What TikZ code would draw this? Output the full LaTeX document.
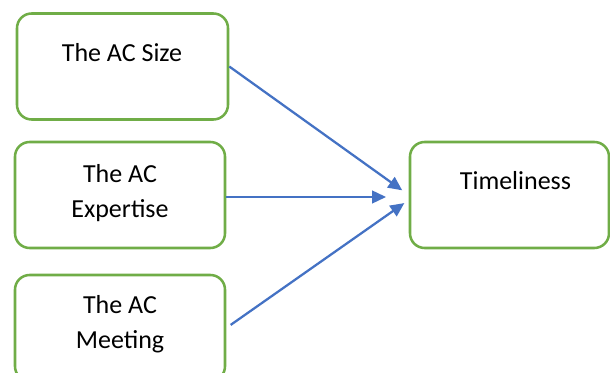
\documentclass[tikz,border=0pt]{standalone}
\usepackage{fontspec}
\setmainfont{Carlito}
\usetikzlibrary{arrows.meta}
\definecolor{boxgreen}{HTML}{70AD47}
\definecolor{linkblue}{HTML}{4472C4}
\begin{document}
\begin{tikzpicture}[x=.75pt, y=-.75pt,
	acbox/.style={draw=boxgreen, line width=1.9pt, rounded corners=11pt, minimum height=79.5pt},
	actext/.style={anchor=base, align=center, font=\fontsize{19.5}{26.25}\selectfont},
	link/.style={draw=linkblue, line width=1.7pt, -{Triangle[length=10.5pt,width=9.5pt]}}]
	\useasboundingbox (0,0) rectangle (610,373);
	\clip (0,0) rectangle (610,373);
	\node[acbox, minimum width=158.25pt] (size)      at (122.5,66.5) {};
	\node[acbox, minimum width=157.5pt]  (expertise) at (120,195)    {};
	\node[acbox, minimum width=157.5pt]  (meeting)   at (120,328)    {};
	\node[acbox, minimum width=149.25pt] (time)      at (509.5,195)  {};
	%texte
	\node[actext] (sizetxt)      at (122,62)  {The AC Size};
	\node[actext] (expertisetxt) at (120,218) {The AC\\Expertise};
	\node[actext] (meetingtxt)   at (120,349) {The AC\\Meeting};
	\node[actext] (timetxt)      at (515.5,190) {Timeliness};
	%pfeile
	\draw[link, shorten >=6pt]                  (size.east)      -- (time.west);
	\draw[link, shorten >=17pt]                 ([yshift=-1.5pt]expertise.east) -- ([yshift=-1.5pt]time.west);
	\draw[link, shorten <=4pt, shorten >=4pt]   (meeting.east)   -- ([yshift=-3.75pt]time.west);
\end{tikzpicture}
\end{document}
